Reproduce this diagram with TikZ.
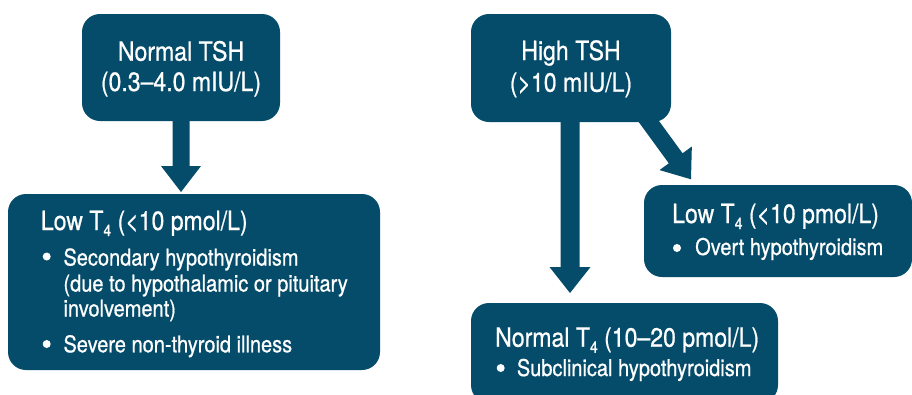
\documentclass[tikz,border=0pt]{standalone}
\usepackage{fontspec}
\setmainfont{TeX Gyre Heros}[FakeStretch=0.87,FakeBold=0.7]
\usetikzlibrary{calc}
\definecolor{teal}{RGB}{4,76,106}
\newcommand{\mysub}[1]{\raisebox{-6pt}{\fontsize{16}{16}\selectfont #1}}
\newcommand{\fatarrow}[5]{%
  \path ($(#2)!#5!(#1)$) coordinate (fa-h);
  \fill[teal] ($(#1)!#3!90:(#2)$) -- ($(fa-h)!#3!90:(#2)$) -- ($(fa-h)!#4!90:(#2)$)
    -- (#2) -- ($(fa-h)!#4!-90:(#2)$) -- ($(fa-h)!#3!-90:(#2)$) -- ($(#1)!#3!-90:(#2)$) -- cycle;
}
\begin{document}
\begin{tikzpicture}[x=1pt,y=-1pt,
  box/.style={rectangle, rounded corners=18pt, fill=teal, inner sep=0pt, outer sep=0pt, anchor=north west},
  ttl/.style={text=white, inner sep=0pt, font=\fontsize{26.5}{30}\selectfont},
  bdy/.style={text=white, inner sep=0pt, font=\fontsize{23}{26}\selectfont, anchor=base west},
  dot/.style={fill=white}]
\useasboundingbox (0,0) rectangle (912,394);
\clip (0,0) rectangle (912,394);
% boxes
\node[box, minimum width=198pt, minimum height=107pt] (A) at (82,14) {};
\node[box, minimum width=372pt, minimum height=176pt] (B) at (8,194) {};
\node[box, minimum width=200pt, minimum height=108pt] (C) at (471,14) {};
\node[box, minimum width=268pt, minimum height=92pt] (D) at (644,185) {};
\node[box, minimum width=307pt, minimum height=100pt] (E) at (471,303) {};
% arrows
\coordinate (p1) at (A.south);
\coordinate (q1) at ($(A.south |- B.north)+(0,-2)$);
\fatarrow{p1}{q1}{8.5pt}{20pt}{26pt}
\coordinate (p2) at ($(C.south)+(-1,-2)$);
\coordinate (q2) at ($(C.south |- E.north)+(-1,-10)$);
\fatarrow{p2}{q2}{9.5pt}{20.5pt}{26pt}
\coordinate (p3) at ($(C.south east)+(-32,-14)$);
\coordinate (q3) at ($(D.north west)+(47,-5.7)$);
\fatarrow{p3}{q3}{8.5pt}{20pt}{26pt}
% box A text
\node[ttl, anchor=base] (a1) at (181,60.7) {Normal TSH};
\node[ttl, anchor=base] (a2) at (181,91) {(0.3–4.0 mIU/L)};
% box C text
\node[ttl, anchor=base] (c1) at (571,60) {High TSH};
\node[ttl, anchor=base] (c2) at (571,91.7) {(>10 mIU/L)};
% box B text
\node[ttl, anchor=base west] (b0) at (40.7,230) {Low T\mysub{4} (<10 pmol/L)};
\fill[dot] (46.7,256.5) circle (4pt);
\node[bdy] (b1) at (63.3,265.5) {Secondary hypothyroidism};
\node[bdy] (b2) at (63.3,291.5) {(due to hypothalamic or pituitary};
\node[bdy] (b3) at (63.3,316.5) {involvement)};
\fill[dot] (46.7,344) circle (4pt);
\node[bdy] (b4) at (63.3,352.3) {Severe non-thyroid illness};
% box D text
\node[ttl, anchor=base west] (d0) at (672,223) {Low T\mysub{4} (<10 pmol/L)};
\fill[dot] (677,248) circle (4pt);
\node[bdy] (d1) at (695,255) {Overt hypothyroidism};
% box E text
\node[ttl, anchor=base west] (e0) at (495,346.7) {Normal T\mysub{4} (10–20 pmol/L)};
\fill[dot] (500.7,368) circle (4pt);
\node[bdy] (e1) at (516.7,376) {Subclinical hypothyroidism};
\end{tikzpicture}
\end{document}
